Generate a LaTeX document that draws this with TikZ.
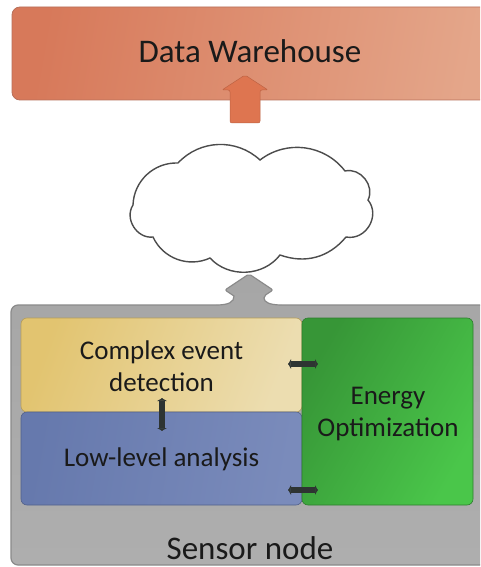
\documentclass[tikz,border=0pt]{standalone}
\usepackage{fontspec}
\setmainfont{Carlito}
\usetikzlibrary{arrows.meta}

\definecolor{whOrangeA}{HTML}{D7795A}
\definecolor{whOrangeB}{HTML}{E4A68A}
\definecolor{whOrangeLine}{HTML}{B8705A}
\definecolor{upArrow}{HTML}{DE7550}
\definecolor{snGrayA}{HTML}{A6A6A6}
\definecolor{snGrayB}{HTML}{AEAEAE}
\definecolor{snGrayLine}{HTML}{8A8A8A}
\definecolor{cedA}{HTML}{E2C470}
\definecolor{cedB}{HTML}{ECDDB0}
\definecolor{llaA}{HTML}{6679AD}
\definecolor{llaB}{HTML}{7A8BBB}
\definecolor{eoA}{HTML}{379637}
\definecolor{eoB}{HTML}{4AC64A}
\definecolor{eoLine}{HTML}{2E7D2E}
\definecolor{linkDark}{HTML}{2E3432}
\definecolor{txt}{HTML}{1A1A1A}

\tikzset{
  bigtext/.style={font=\fontsize{33}{38}\selectfont, text=txt, inner sep=0pt},
  bodytext/.style={font=\fontsize{27}{31.5}\selectfont, text=txt, inner sep=0pt, align=center},
  innerbox/.style={rounded corners=6pt, line width=0.6pt},
  link/.style={line width=6pt, draw=linkDark,
    {Latex[length=3pt,width=11pt]}-{Latex[length=3pt,width=11pt]}},
}

\begin{document}
\begin{tikzpicture}[x=1pt,y=-1pt]
  \useasboundingbox (0,0) rectangle (480,567);
  \clip (0,0) rectangle (480,567);
  \fill[white] (0,0) rectangle (480,567);

  % Data warehouse bar (runs past the right edge)
  \draw[rounded corners=8pt, draw=whOrangeLine, line width=0.8pt,
        shading=axis, left color=whOrangeA, right color=whOrangeB, shading angle=80]
    (12,7) rectangle (500,100);
  \node[bigtext, anchor=base] (dw) at (250,63) {Data Warehouse};

  % Orange arrow into the warehouse
  \draw[upArrow!85!black, line width=0.5pt, fill=upArrow, rounded corners=2pt]
    (230,123) -- (230,90) -- (222,90) -- (245,75) -- (268,90) -- (260,90) -- (260,123) -- cycle;
  \coordinate (orangeTip) at (245,75);

  % Cloud
  \draw[line width=1.4pt, draw=black!70, fill=white]
    (178,163) to[bend left=45] (260,160)
              to[bend left=45] (345,171)
              to[bend left=65, looseness=1.1] (368,200)
              to[bend left=70, looseness=1.2] (346,237)
              to[bend left=35] (280,255)
              to[bend left=50] (210,258)
              to[bend left=45] (153,237)
              to[bend left=65, looseness=1.1] (133,205)
              to[bend left=45] cycle;
  \coordinate (cloud) at (250,210);

  % Sensor node body with its upward arrow
  \draw[draw=snGrayLine, line width=1.2pt, shading=axis, top color=snGrayA, bottom color=snGrayB]
    (500,565) {[rounded corners=7pt] -- (11,565) -- (11,305)} -- (216,305)
    .. controls (229,305) and (234,302) .. (234,296)
    [rounded corners=2pt] -- (225,290) -- (249,274) -- (273,290) -- (264,296)
    [sharp corners] .. controls (264,302) and (269,305) .. (282,305)
    -- (500,305) -- cycle;
  \node[bigtext, anchor=base] (sn) at (250,559) {Sensor node};

  % Inner modules
  \draw[innerbox, draw=cedA!80!black, shading=axis, left color=cedA, right color=cedB, shading angle=70]
    (21,318) rectangle (302,412);
  \draw[innerbox, draw=llaA!80!black, shading=axis, left color=llaA, right color=llaB, shading angle=80]
    (21,412) rectangle (302,505);
  \draw[innerbox, draw=eoLine, shading=axis, left color=eoA, right color=eoB, shading angle=60]
    (302,318) rectangle (473,505);

  \node[bodytext] (ced) at (161.5,366) {Complex event\\detection};
  \node[bodytext, anchor=base] (lla) at (161.5,466) {Low-level analysis};
  \node[bodytext] (eo) at (388,414) {Energy\\Optimization};

  % Two-way links between modules
  \coordinate (vA) at (162,398);
  \coordinate (vB) at (162,431);
  \coordinate (hA1) at (288,364);
  \coordinate (hA2) at (318,364);
  \coordinate (hB1) at (288,490);
  \coordinate (hB2) at (318,490);
  \draw[link] (vA) -- (vB);
  \draw[link] (hA1) -- (hA2);
  \draw[link] (hB1) -- (hB2);
\end{tikzpicture}
\end{document}
